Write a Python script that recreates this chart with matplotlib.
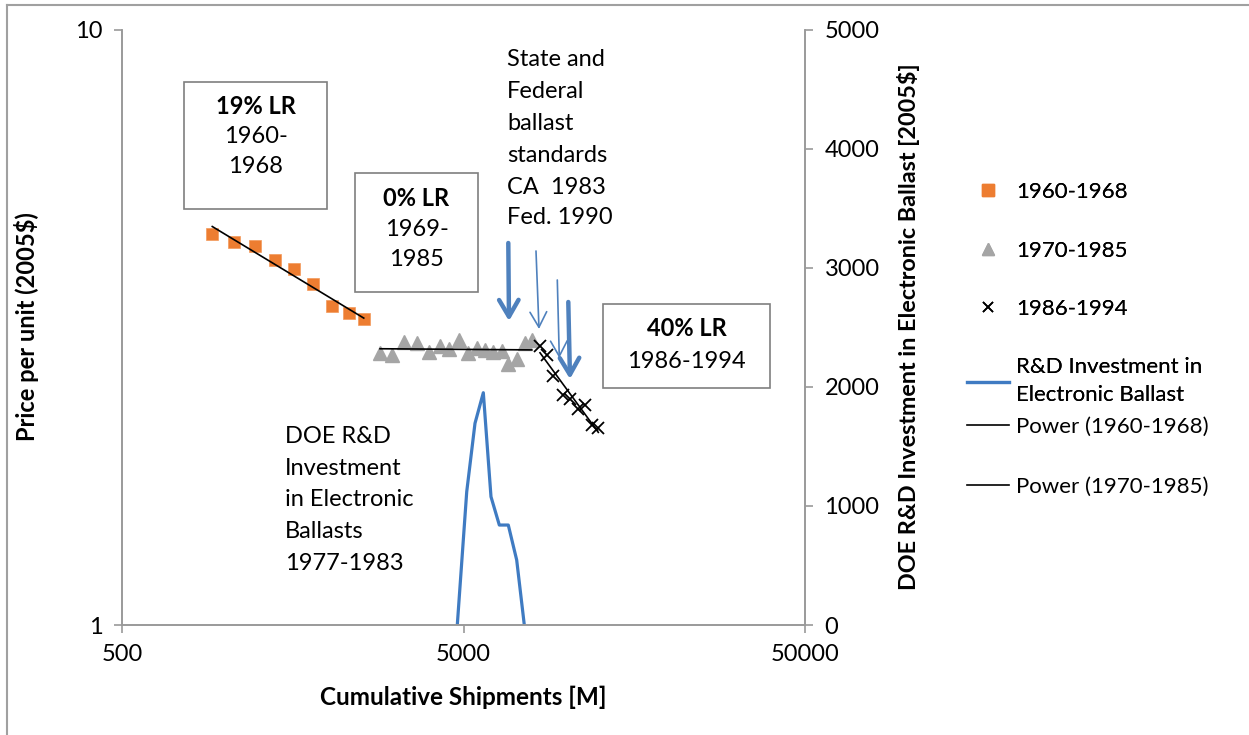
import numpy as np
import matplotlib.pyplot as plt
from matplotlib.lines import Line2D
from matplotlib.patches import Rectangle
from matplotlib.ticker import FixedLocator, NullLocator

plt.rcParams['font.family'] = ['Lato', 'DejaVu Sans']

# cumulative shipments [M] and price per unit (2005$)
ship_60_68 = [919, 1064, 1223, 1401, 1598, 1816, 2056, 2311, 2552]
price_60_68 = [4.54, 4.40, 4.34, 4.10, 3.97, 3.74, 3.44, 3.35, 3.27]

ship_70_85 = [2848, 3082, 3354, 3648, 3963, 4268, 4544, 4840, 5144,
              5466, 5781, 6113, 6469, 6763, 7157, 7568, 7917]
price_70_85 = [2.86, 2.84, 2.99, 2.98, 2.88, 2.94, 2.91, 3.01, 2.87,
               2.92, 2.90, 2.88, 2.89, 2.75, 2.80, 2.98, 3.01]

ship_86_94 = [8375, 8762, 9162, 9761, 10254, 10845, 11345, 11869, 12409]
price_86_94 = [2.94, 2.84, 2.62, 2.44, 2.40, 2.31, 2.34, 2.17, 2.14]

# DOE R&D investment in electronic ballast (right axis)
rd_ship = [4795, 5110, 5403, 5715, 6018, 6366, 6763, 7157, 7534]
rd_invest = [0, 1120, 1695, 1952, 1078, 840, 840, 546, 0]

W, H = 1249, 735
fig = plt.figure(figsize=(W / 100, H / 100), dpi=100)


def fx(px):
    return px / W


def fy(py):
    return 1 - py / H


ax = fig.add_axes([fx(122), fy(625), fx(805) - fx(122), fy(30) - fy(625)])
ax2 = ax.twinx()
ax.set_zorder(ax2.get_zorder() + 1)
ax.patch.set_visible(False)

grey = '#9A9A9A'
blue = '#3F7BC2'
fs = 17
lfs = 16

# scatter series
ax.plot(ship_60_68, price_60_68, 's', color='#ED7D31', ms=9, mec='#F39A5C', mew=0.5,
        label='1960-1968')
ax.plot(ship_70_85, price_70_85, '^', color='#A5A5A5', ms=10, label='1970-1985')
ax.plot(ship_86_94, price_86_94, 'x', color='black', ms=8, mew=1.3, label='1986-1994')

# power trend lines
trend_labels = ['Power (1960-1968)', 'Power (1970-1985)']
for xs, ys in [(ship_60_68, price_60_68), (ship_70_85, price_70_85),
               (ship_86_94, price_86_94)]:
    b, a = np.polyfit(np.log10(xs), np.log10(ys), 1)
    xx = np.geomspace(min(xs), max(xs), 50)
    ax.plot(xx, 10 ** a * xx ** b, color='black', lw=1.2)

ax2.plot(rd_ship, rd_invest, color=blue, lw=2.3)

ax.set_xscale('log')
ax.set_yscale('log')
ax.set_xlim(500, 50000)
ax.set_ylim(1, 10)
ax.xaxis.set_major_locator(FixedLocator([500, 5000, 50000]))
ax.xaxis.set_minor_locator(NullLocator())
ax.yaxis.set_major_locator(FixedLocator([1, 10]))
ax.yaxis.set_minor_locator(NullLocator())
ax.set_xticklabels(['500', '5000', '50000'])
ax.set_yticklabels(['1', '10'])

ax2.set_ylim(0, 5000)
ax2.set_yticks(range(0, 5001, 1000))

for a in (ax, ax2):
    for s in a.spines.values():
        s.set_color(grey)
        s.set_linewidth(1.2)
    a.spines['top'].set_visible(False)
ax.tick_params(axis='both', direction='out', length=6, width=1.2, color=grey,
               labelsize=fs, pad=8)
ax2.tick_params(axis='y', direction='out', length=6, width=1.2, color=grey,
                labelsize=fs, pad=8)

# axis titles
fig.text(fx(463), fy(697), 'Cumulative Shipments [M]', fontsize=17.5,
         fontweight='bold', ha='center', va='center')
fig.text(fx(27), fy(327), 'Price per unit (2005$)', fontsize=17,
         fontweight='bold', rotation=90, ha='center', va='center')
fig.text(fx(908), fy(327), 'DOE R&D Investment in Electronic Ballast [2005$]',
         fontsize=16.8, fontweight='bold', rotation=90, ha='center', va='center')

# text boxes
for (x0, y0, x1, y1), lines in [
        ((184, 82, 327, 209), [('19% LR', 106.7), ('1960-', 136.7), ('1968', 166.7)]),
        ((355, 173, 478, 292), [('0% LR', 198), ('1969-', 229), ('1985', 260)]),
        ((603, 304, 770, 388), [('40% LR', 329), ('1986-1994', 361.5)])]:
    fig.patches.append(Rectangle((fx(x0), fy(y1)), fx(x1) - fx(x0), fy(y0) - fy(y1),
                                 transform=fig.transFigure, fill=False,
                                 edgecolor='#7F7F7F', lw=1.2))
    for i, (t, y) in enumerate(lines):
        fig.text(fx((x0 + x1) / 2), fy(y), t, fontsize=fs, ha='center', va='center',
                 fontweight='bold' if i == 0 else 'normal')

state_lines = ['State and', 'Federal', 'ballast', 'standards', 'CA  1983', 'Fed. 1990']
for t, y in zip(state_lines, [59, 91, 123, 155, 187, 218]):
    fig.text(fx(507), fy(y), t, fontsize=fs, ha='left', va='center')

doe_lines = ['DOE R&D', 'Investment', 'in Electronic', 'Ballasts', '1977-1983']
for t, y in zip(doe_lines, [437, 469, 500, 532, 563]):
    fig.text(fx(285), fy(y), t, fontsize=fs, ha='left', va='center')

# arrows for the standards
for (xa, ya, xb, yb), lw, hl, hw in [((508.3, 243, 509, 321), 3.2, 1.2, 0.7),
                                     ((536, 251, 539, 329), 1.2, 1.1, 0.6),
                                     ((557.3, 280, 559.3, 358), 1.2, 1.1, 0.6),
                                     ((568.3, 302, 570, 379), 3.2, 1.2, 0.7)]:
    fig.add_artist(plt.Annotation('', xy=(fx(xb), fy(yb)), xytext=(fx(xa), fy(ya)),
                                  xycoords='figure fraction',
                                  textcoords='figure fraction',
                                  arrowprops=dict(arrowstyle='->,head_length=%s,head_width=%s'
                                                  % (hl, hw),
                                                  color='#4F81BD', lw=lw,
                                                  shrinkA=0, shrinkB=0)))

# legend
h1 = [Line2D([], [], ls='none', marker='s', color='#ED7D31', ms=8),
      Line2D([], [], ls='none', marker='^', color='#A5A5A5', ms=9),
      Line2D([], [], ls='none', marker='x', color='black', ms=7, mew=1.2),
      Line2D([], [], color=blue, lw=2.3)]
l1 = fig.legend(h1, ['1960-1968', '1970-1985', '1986-1994',
                     'R&D Investment in\nElectronic Ballast'],
                loc='upper left', bbox_to_anchor=(fx(956), fy(171)), frameon=False,
                fontsize=lfs, handlelength=1.9, handletextpad=0.3, labelspacing=1.73,
                borderpad=0)
for t in l1.get_texts():
    t.set_linespacing(1.5)
h2 = [Line2D([], [], color='black', lw=1.2), Line2D([], [], color='black', lw=1.2)]
l2 = fig.legend(h2, trend_labels, loc='upper left',
                bbox_to_anchor=(fx(956), fy(406)), frameon=False, fontsize=lfs,
                handlelength=1.9, handletextpad=0.3, labelspacing=1.8, borderpad=0)
fig.add_artist(l1)

# outer chart border
fig.add_artist(Line2D([fx(7), 1], [fy(4.5), fy(4.5)], transform=fig.transFigure,
                      color='#A0A0A0', lw=1.5))
fig.add_artist(Line2D([fx(7), fx(7)], [0, fy(4.5)], transform=fig.transFigure,
                      color='#A0A0A0', lw=1.5))

fig.savefig('out.png', dpi=100)
